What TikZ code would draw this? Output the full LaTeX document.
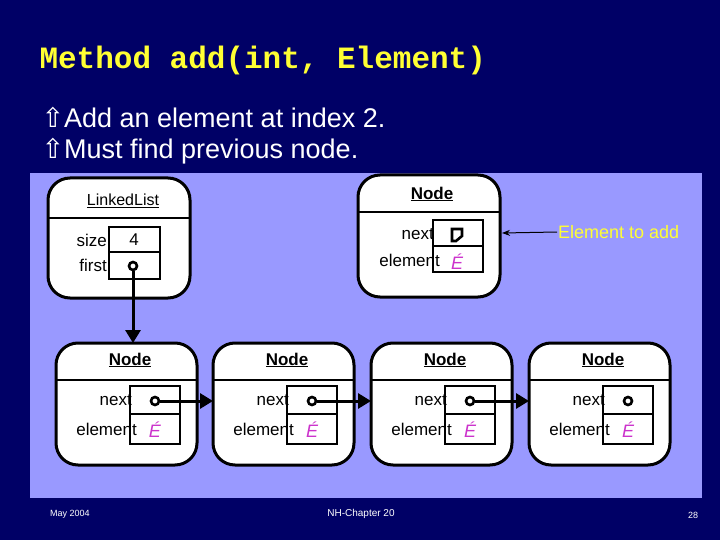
\documentclass[tikz,border=0pt]{standalone}
\usepackage{fontspec}
\setmainfont{Liberation Sans}
\newfontfamily\titlefont{Liberation Mono}
\newfontfamily\djv{DejaVu Sans}
\usetikzlibrary{arrows.meta}
\definecolor{navy}{HTML}{000066}
\definecolor{panel}{HTML}{9999FF}
\definecolor{ttl}{HTML}{FFFF33}
\definecolor{mag}{HTML}{CC33CC}
\tikzset{
 obj/.style={draw=black,line width=3pt,fill=white,rounded corners=22pt},
 cell/.style={draw=black,line width=2.6pt},
 lbl/.style={font=\fontsize{17}{19}\selectfont,anchor=east,inner sep=1pt},
 hdr/.style={font=\bfseries\fontsize{17}{19}\selectfont,inner sep=0pt},
 ptr/.style={line width=3pt,-{Triangle[length=13pt,width=15pt]}},
 dot/.style={circle,draw=black,line width=2.6pt,fill=white,inner sep=0pt,minimum size=8pt},
 elt/.style={text=mag,font=\fontsize{18}{20}\selectfont\itshape},
}
\newcommand{\uline}[1]{\underline{#1}}
\begin{document}
\begin{tikzpicture}[x=1pt,y=-1pt]
\fill[navy] (0,0) rectangle (720,540);
\useasboundingbox (0,0) rectangle (720,540);
\fill[panel] (30,173) rectangle (702,498);
\node[anchor=west,text=ttl,font=\titlefont\bfseries\fontsize{31}{33}\selectfont] (title) at (36,60) {Method add(int, Element)};
\node[anchor=west,text=white,font=\fontsize{27}{31}\selectfont] (b1) at (38,117) {{\djv ⇧}Add an element at index 2.};
\node[anchor=west,text=white,font=\fontsize{27}{31}\selectfont] (b2) at (38,151) {{\djv ⇧}Must find previous node.};
% LinkedList
\draw[obj] (48,178) rectangle (190,298);
\draw[line width=2.6pt] (48,218) -- (190,218);
\node[hdr,font=\fontsize{16}{18}\selectfont] (llh) at (123,201) {\uline{LinkedList}};
\draw[cell] (109,227) rectangle (160,252);
\draw[cell] (109,252) rectangle (160,279);
\node[lbl] (sz) at (108,240) {size};
\node[lbl] (fs) at (108,265) {first};
\node[font=\fontsize{17}{19}\selectfont] (four) at (134,240) {4};
\node[dot] (fd) at (133,266) {};
% top node
\draw[obj] (358,175) rectangle (500,297);
\draw[line width=2.6pt] (358,212) -- (500,212);
\node[hdr] (th) at (432,194) {\uline{Node}};
\draw[cell] (433,220) rectangle (483,246);
\draw[cell] (433,246) rectangle (483,272);
\node[lbl] (tn) at (435,234) {next};
\node[lbl] (te) at (441,260) {element};
\node[elt] (tel) at (457,262) {É};
\draw[line width=2.6pt,fill=white] (452,229) -- (462,229) -- (462,236) -- (456,241) -- (452,241) -- cycle;
\coordinate (tnr) at (502,233);
\node[anchor=west,text=ttl,font=\fontsize{18}{20}\selectfont,inner sep=1pt] (eta) at (557,232) {Element to add};
\draw[line width=1pt,-{Stealth[length=8pt]}] (eta.west) -- (tnr);
% bottom nodes
\foreach \i/\x in {1/56,2/213,3/371,4/529}{
  \draw[obj] (\x,343) rectangle ++(141,122);
  \draw[line width=2.6pt] (\x,380) -- ++(141,0);
  \node[hdr] (h\i) at (\x+74,360) {\uline{Node}};
  \draw[cell] (\x+74,386) rectangle ++(50,28);
  \draw[cell] (\x+74,414) rectangle ++(50,30);
  \node[lbl] (n\i) at (\x+77,400) {next};
  \node[lbl] (e\i) at (\x+82,429) {element};
  \node[elt] (el\i) at (\x+99,430) {É};
  \node[dot] (d\i) at (\x+99,401) {};
  \coordinate (L\i) at (\x,401);
}
\coordinate (T1) at (133,343);
\draw[ptr] (fd) -- (T1);
\draw[ptr] (d1) -- (L2);
\draw[ptr] (d2) -- (L3);
\draw[ptr] (d3) -- (L4);
% footer
\node[text=white,font=\fontsize{9}{10}\selectfont] (f1) at (70,514) {May 2004};
\node[text=white,font=\fontsize{10}{11}\selectfont] (f2) at (361,514) {NH-Chapter 20};
\node[text=white,font=\fontsize{9}{10}\selectfont] (f3) at (693,515) {28};
\end{tikzpicture}
\end{document}
